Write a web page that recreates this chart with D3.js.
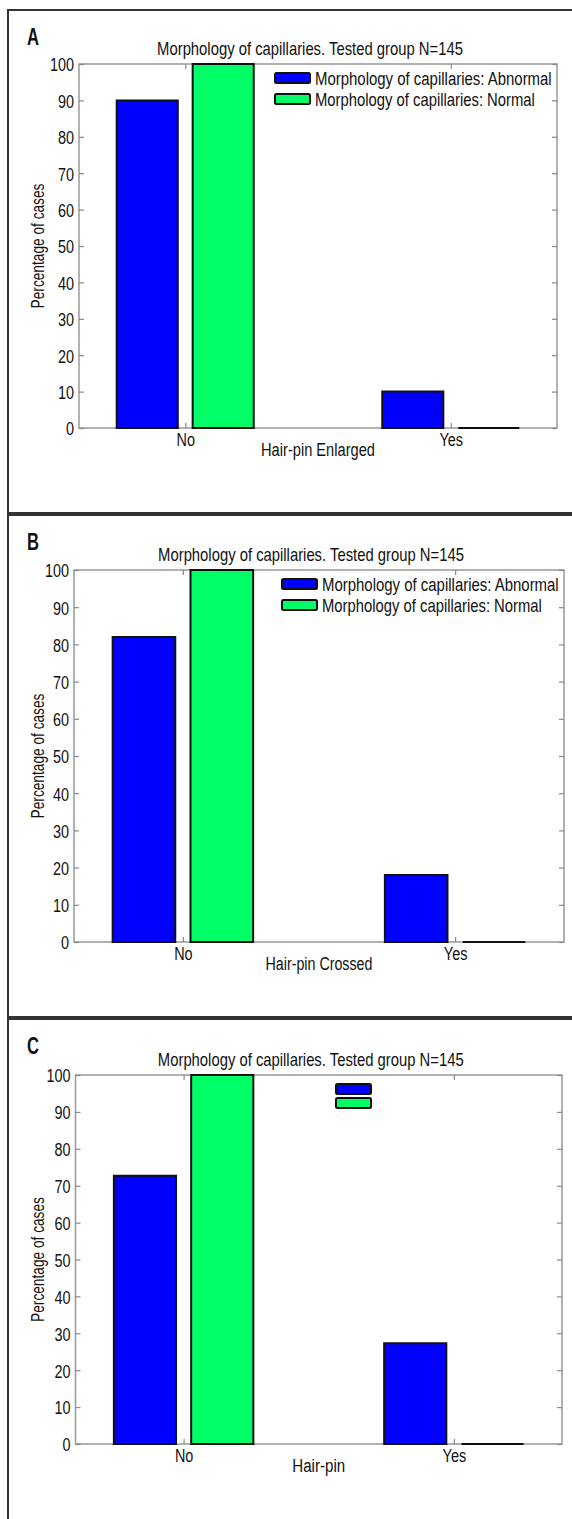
<!DOCTYPE html>
<html>
<head>
<meta charset="utf-8">
<script src="https://cdn.jsdelivr.net/npm/d3@7"></script>
<style>
  body { margin: 0; background: #fff; }
  text { font-family: 'Liberation Sans', Arial, sans-serif; fill: #111; }
</style>
</head>
<body>
<div id="chart"></div>
<script>
// data
const categories = ['No', 'Yes']
const categoryPos = [1, 2]
const seriesNames = ['Morphology of capillaries: Abnormal', 'Morphology of capillaries: Normal']
const abnormalA = [90, 10]
const normalA = [100, 0]
const abnormalB = [82, 18]
const normalB = [100, 0]
const abnormalC = [72.7, 27.3]
const normalC = [100, 0]
const yTicks = [0, 10, 20, 30, 40, 50, 60, 70, 80, 90, 100]
const panelLetters = ['A', 'B', 'C']
const xLabels = ['Hair-pin Enlarged', 'Hair-pin Crossed', 'Hair-pin']
const chartTitle = 'Morphology of capillaries. Tested group N=145'
const yLabel = 'Percentage of cases'

const colors = ['#0000ff', '#00ff66']

const width = 572
const height = 1519
const fontSize = 19
const squeeze = 0.76 // the original font is a condensed face

const panels = [
  { top: 10, bottom: 513, x0: 79, x1: 557, y0: 64, y1: 428, abnormal: abnormalA, normal: normalA,
    legend: { x: 275, y: 73, gap: 21, text: true }, xw: 114 },
  { top: 515, bottom: 1017, x0: 74, x1: 564, y0: 570, y1: 942, abnormal: abnormalB, normal: normalB,
    legend: { x: 282, y: 579, gap: 21, text: true }, xw: 107 },
  { top: 1019, bottom: null, x0: 75.5, x1: 562, y0: 1075, y1: 1444, abnormal: abnormalC, normal: normalC,
    legend: { x: 336, y: 1084, gap: 14, text: false }, xw: 53 }
]

const svg = d3
  .select('#chart')
  .append('svg')
  .attr('width', width)
  .attr('height', height)

svg.append('rect').attr('width', width).attr('height', height).attr('fill', '#fff')

// text placed at (x, y), squeezed horizontally to a given width
function label(parent, x, y, str, opts) {
  const o = Object.assign({ size: fontSize, anchor: 'start', rotate: 0, w: null, weight: 'normal' }, opts)
  const wrap = parent.append('g')
  const t = wrap.append('text')
    .attr('font-size', o.size)
    .attr('font-weight', o.weight)
    .attr('text-anchor', o.anchor)
    .text(str)
  const natural = t.node().getComputedTextLength()
  const k = o.w ? o.w / natural : squeeze
  wrap.attr('transform', 'translate(' + x + ',' + y + ') rotate(' + o.rotate + ') scale(' + k + ',1)')
  return wrap
}

panels.forEach((p, i) => {
  const g = svg.append('g')

  // outer frame
  const frame = d3.path()
  frame.moveTo(width + 5, p.top)
  frame.lineTo(8, p.top)
  frame.lineTo(8, p.bottom === null ? height + 5 : p.bottom)
  if (p.bottom !== null) frame.lineTo(width + 5, p.bottom)
  g.append('path')
    .attr('d', frame.toString())
    .attr('fill', 'none')
    .attr('stroke', '#333')
    .attr('stroke-width', 2)

  label(g, 27, p.top + 35, panelLetters[i], { size: 23, weight: 'bold', w: 12 })

  const x = d3.scaleLinear().domain([0.6, 2.4]).range([p.x0, p.x1])
  const y = d3.scaleLinear().domain([0, 100]).range([p.y1, p.y0])

  // plot box
  g.append('rect')
    .attr('x', p.x0)
    .attr('y', p.y0)
    .attr('width', p.x1 - p.x0)
    .attr('height', p.y1 - p.y0)
    .attr('fill', '#fff')
    .attr('stroke', '#999')
    .attr('stroke-width', 1.5)

  // ticks, MATLAB style pointing inwards on all four sides
  const axisL = d3.axisLeft(y).tickValues(yTicks).tickSizeInner(-5).tickSizeOuter(0).tickPadding(5)
  const axisR = d3.axisRight(y).tickValues(yTicks).tickSizeInner(-5).tickSizeOuter(0).tickFormat('')
  const axisB = d3.axisBottom(x).tickValues(categoryPos).tickSizeInner(-5).tickSizeOuter(0)
    .tickPadding(5).tickFormat((d, k) => categories[k])
  const axisT = d3.axisTop(x).tickValues(categoryPos).tickSizeInner(-5).tickSizeOuter(0).tickFormat('')

  const gl = g.append('g').attr('transform', 'translate(' + p.x0 + ',0)').call(axisL)
  const gr = g.append('g').attr('transform', 'translate(' + p.x1 + ',0)').call(axisR)
  const gb = g.append('g').attr('transform', 'translate(0,' + p.y1 + ')').call(axisB)
  const gt = g.append('g').attr('transform', 'translate(0,' + p.y0 + ')').call(axisT)
  ;[gl, gr, gb, gt].forEach(a => {
    a.select('.domain').remove()
    a.selectAll('line').attr('stroke', '#888').attr('stroke-width', 1.2)
    a.selectAll('text')
      .attr('font-size', fontSize)
      .attr('fill', '#111')
      .attr('x', function () { return (+this.getAttribute('x') || 0) / squeeze })
      .attr('transform', 'scale(' + squeeze + ',1)')
  })
  gl.selectAll('text').attr('dy', '0.36em')

  // bars, drawn as paths so that a zero bar still shows its outline
  const rows = categories.map((c, k) => ({ pos: categoryPos[k], abnormal: p.abnormal[k], normal: p.normal[k] }))
  const offsets = [-0.143, 0.143]
  const barW = 0.23
  ;['abnormal', 'normal'].forEach((key, s) => {
    g.selectAll('.bar-' + key)
      .data(rows)
      .enter()
      .append('path')
      .attr('class', 'bar-' + key)
      .attr('d', d => {
        const l = x(d.pos + offsets[s] - barW / 2)
        const r = x(d.pos + offsets[s] + barW / 2)
        return 'M' + l + ',' + y(0) + 'V' + y(d[key]) + 'H' + r + 'V' + y(0) + 'Z'
      })
      .attr('fill', colors[s])
      .attr('stroke', '#111')
      .attr('stroke-width', 2)
  })

  // title
  label(g, (p.x0 + p.x1) / 2 - 8, p.y0 - 9, chartTitle, { anchor: 'middle', w: 306 })

  // x label
  label(g, (p.x0 + p.x1) / 2, p.y1 + 28, xLabels[i], { anchor: 'middle', w: p.xw })

  // y label
  label(g, 44, (p.y0 + p.y1) / 2, yLabel, { anchor: 'middle', rotate: -90, w: 125 })

  // legend
  const lg = g.append('g').attr('transform', 'translate(' + p.legend.x + ',' + p.legend.y + ')')
  seriesNames.forEach((name, s) => {
    lg.append('rect')
      .attr('x', 0)
      .attr('y', s * p.legend.gap)
      .attr('width', 35)
      .attr('height', 10)
      .attr('rx', 1.5)
      .attr('fill', colors[s])
      .attr('stroke', '#111')
      .attr('stroke-width', 2)
    if (p.legend.text) {
      label(lg, 40, s * p.legend.gap + 12, name, { w: s === 0 ? 237 : 220 })
    }
  })
})
</script>
</body>
</html>
